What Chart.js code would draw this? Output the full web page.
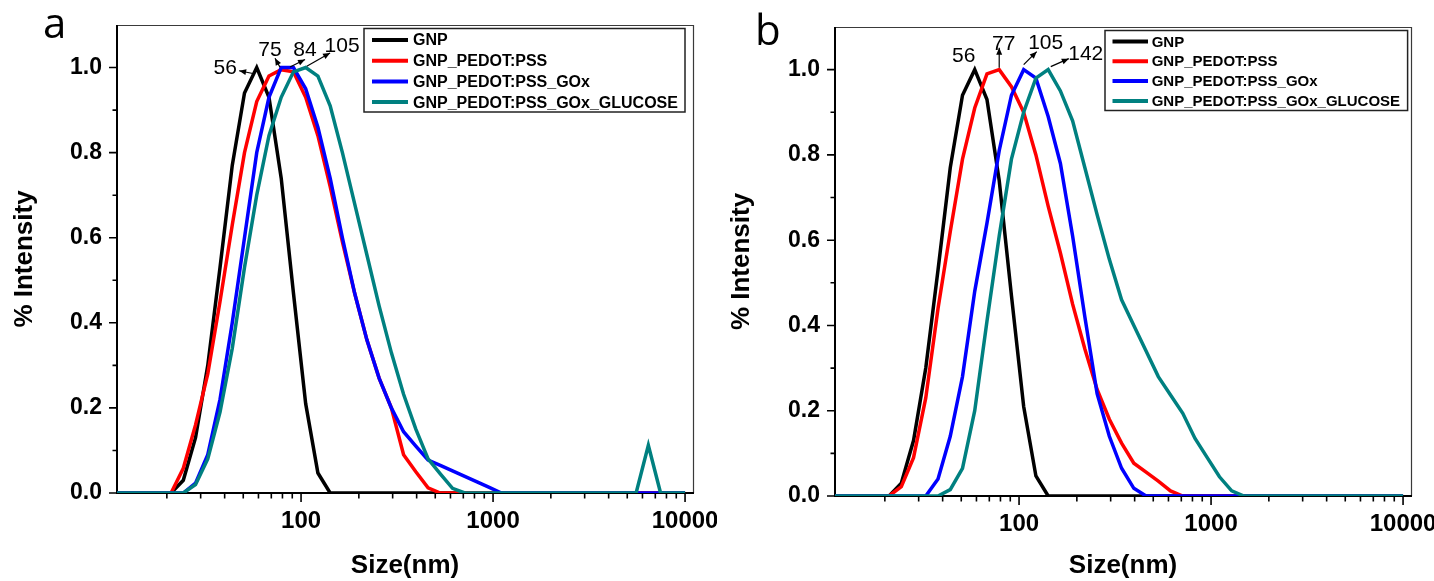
<!DOCTYPE html>
<html><head><meta charset="utf-8">
<script src="https://cdn.jsdelivr.net/npm/chart.js@4.4.1/dist/chart.umd.min.js"></script>
<style>
html,body{margin:0;padding:0;background:#fff;}
#wrap{position:relative;width:1434px;height:581px;overflow:hidden;background:#fff;}
.panel{position:absolute;top:0;width:717px;height:581px;}
#pa{left:0}
#pb{left:717px}
</style></head><body>
<div id="wrap">
<div class="panel" id="pa"><canvas id="ca" width="717" height="581"></canvas></div>
<div class="panel" id="pb"><canvas id="cb" width="717" height="581"></canvas></div>
</div>
<script>
// ---------- DATA ----------
const sizeNm = [10.1, 11.7, 13.54, 15.69, 18.17, 21.04, 24.36, 28.21, 32.67, 37.84,
  43.82, 50.75, 58.77, 68.06, 78.82, 91.28, 105.7, 122.4, 141.8, 164.2,
  190.1, 220.2, 255.0, 295.3, 342.0, 396.1, 458.7, 531.2, 615.1, 712.4,
  825.0, 955.4, 1106, 1281, 1484, 1718, 1990, 2305, 2669, 3091,
  3580, 4145, 4801, 5560, 6439, 7456, 8635, 10000];

const seriesNames = ['GNP', 'GNP_PEDOT:PSS', 'GNP_PEDOT:PSS_GOx', 'GNP_PEDOT:PSS_GOx_GLUCOSE'];

// panel a
const gnpA = [0,0,0,0,0, 0,0.03,0.13,0.30,0.53, 0.77,0.94,1.0,0.93,0.74, 0.47,0.21,0.047,0,0,
  0,0,0,0,0, 0,0,0,0,0, 0,0,0,0,0, 0,0,0,0,0, 0,0,0,0,0, 0,0,0];
const pedotA = [0,0,0,0,0, 0,0.058,0.16,0.28,0.45, 0.63,0.80,0.92,0.98,0.995, 0.99,0.93,0.84,0.72,0.59,
  0.47,0.36,0.27,0.20,0.09, 0.05,0.012,0,0,0, 0,0,0,0,0, 0,0,0,0,0, 0,0,0,0,0, 0,0,0];
const goxA = [0,0,0,0,0, 0,0,0.023,0.09,0.22, 0.40,0.60,0.80,0.93,1.0, 1.0,0.95,0.86,0.74,0.60,
  0.47,0.36,0.27,0.20,0.144, 0.11,0.0775,0.065,0.052,0.039, 0.026,0.013,0,0,0, 0,0,0,0,0, 0,0,0,0,0, 0,0,0];
const glucoseA = [0,0,0,0,0, 0,0,0.02,0.08,0.19, 0.34,0.53,0.70,0.84,0.93, 0.99,1.0,0.98,0.91,0.80,
  0.68,0.56,0.44,0.33,0.232, 0.15,0.08,0.045,0.011,0, 0,0,0,0,0, 0,0,0,0,0, 0,0,0,0,0.112, 0,0,0];

// panel b
const gnpB = gnpA.slice();
const pedotB = [0,0,0,0,0, 0,0.022,0.09,0.23,0.44, 0.62,0.79,0.91,0.99,1.0, 0.96,0.90,0.80,0.68,0.57,
  0.45,0.345,0.25,0.18,0.124, 0.077,0.056,0.035,0.012,0, 0,0,0,0,0, 0,0,0,0,0, 0,0,0,0,0, 0,0,0];
const goxB = [0,0,0,0,0, 0,0,0,0,0.04, 0.14,0.28,0.48,0.64,0.81, 0.94,1.0,0.98,0.89,0.78,
  0.61,0.42,0.24,0.14,0.065, 0.018,0,0,0,0, 0,0,0,0,0, 0,0,0,0,0, 0,0,0,0,0, 0,0,0];
const glucoseB = [0,0,0,0,0, 0,0,0,0,0, 0.015,0.065,0.2,0.41,0.61, 0.79,0.90,0.98,1.0,0.95,
  0.88,0.77,0.66,0.555,0.46, 0.40,0.34,0.28,0.237,0.194, 0.135,0.09,0.045,0.012,0, 0,0,0,0,0, 0,0,0,0,0, 0,0,0];

// peak annotations: [series index, size of annotated point, label]
const peakSeriesA = [0, 1, 2, 3];
const peakSizeA = [58.77, 78.82, 91.28, 105.7];
const peakLabelA = ['56', '75', '84', '105'];
const peakSeriesB = [0, 1, 2, 3];
const peakSizeB = [58.77, 78.82, 105.7, 141.8];
const peakLabelB = ['56', '77', '105', '142'];

// axis ticks
const xMajorTicks = [100, 1000, 10000];
const xMinorTicks = [20,30,40,50,60,70,80,90,200,300,400,500,600,700,800,900,2000,3000,4000,5000,6000,7000,8000,9000];
const yMajorTicks = [0, 0.2, 0.4, 0.6, 0.8, 1.0];
const yMinorTicks = [0.1, 0.3, 0.5, 0.7, 0.9];
const xRange = [11, 11000];
const yRange = [0, 1.1];

// ---------- STYLE ----------
const colors = ['#000000', '#ff0000', '#0000ff', '#008080'];
const FONT = "'Liberation Sans', Arial, Helvetica, sans-serif";
Chart.defaults.font.family = FONT;
Chart.defaults.color = '#000';

function pts(arr) { return sizeNm.map((s, i) => ({x: s, y: arr[i]})); }

const framePlugin = {
  id: 'frame',
  beforeDatasetsDraw(chart, args, o) {
    const {ctx, chartArea: ca, scales} = chart;
    const xs = scales.x, ys = scales.y;
    ctx.save();
    ctx.strokeStyle = '#3a3a3a';
    ctx.lineWidth = 1.2;
    ctx.beginPath();
    ctx.moveTo(ca.left, ca.top + 0.5); ctx.lineTo(ca.right + 0.5, ca.top + 0.5); ctx.lineTo(ca.right + 0.5, ca.bottom);
    ctx.stroke();
    ctx.strokeStyle = '#000';
    ctx.lineWidth = 2;
    ctx.beginPath();
    ctx.moveTo(ca.left, ca.top); ctx.lineTo(ca.left, ca.bottom); ctx.lineTo(ca.right + 1, ca.bottom);
    ctx.stroke();
    ctx.lineWidth = 1.6;
    ctx.beginPath();
    yMajorTicks.forEach(v => { const y = ys.getPixelForValue(v); ctx.moveTo(ca.left, y); ctx.lineTo(ca.left - 8, y); });
    yMinorTicks.forEach(v => { const y = ys.getPixelForValue(v); ctx.moveTo(ca.left, y); ctx.lineTo(ca.left - 4.5, y); });
    xMajorTicks.forEach(v => { const x = xs.getPixelForValue(v); ctx.moveTo(x, ca.bottom); ctx.lineTo(x, ca.bottom + 9); });
    xMinorTicks.forEach(v => { const x = xs.getPixelForValue(v); ctx.moveTo(x, ca.bottom); ctx.lineTo(x, ca.bottom + 5.5); });
    ctx.stroke();
    ctx.restore();
  },
  afterDraw(chart, args, o) {
    const {ctx} = chart;
    ctx.save();
    ctx.fillStyle = '#000';
    ctx.font = "42px 'Open Sans', 'Noto Sans', sans-serif";
    ctx.textBaseline = 'alphabetic';
    ctx.textAlign = 'left';
    ctx.fillText(o.letter, o.letterX, o.letterY);

    const L = o.legend;
    ctx.strokeStyle = '#222';
    ctx.lineWidth = 1.5;
    ctx.strokeRect(L.x1, L.y1, L.x2 - L.x1, L.y2 - L.y1);
    ctx.font = 'bold ' + L.font + 'px ' + FONT;
    ctx.textBaseline = 'middle';
    chart.data.datasets.forEach((ds, i) => {
      const y = L.row0 + i * L.step;
      ctx.strokeStyle = ds.borderColor;
      ctx.lineWidth = 4;
      ctx.beginPath(); ctx.moveTo(L.s1, y); ctx.lineTo(L.s2, y); ctx.stroke();
      ctx.fillStyle = '#000';
      ctx.fillText(ds.label, L.tx, y + 1);
    });

    ctx.font = '21px ' + FONT;
    ctx.textAlign = 'center';
    ctx.textBaseline = 'middle';
    ctx.fillStyle = '#000';
    ctx.strokeStyle = '#000';
    ctx.lineWidth = 1.2;
    o.peaks.forEach(p => {
      const meta = chart.getDatasetMeta(p.series);
      const idx = sizeNm.indexOf(p.size);
      const el = meta.data[idx];
      const px = el.x, py = el.y;
      ctx.fillText(p.label, px + p.t[0], py + p.t[1]);
      if (p.a) {
        const x1 = px + p.a[0], y1 = py + p.a[1], x2 = px + p.a[2], y2 = py + p.a[3];
        ctx.beginPath(); ctx.moveTo(x1, y1); ctx.lineTo(x2, y2); ctx.stroke();
        const ang = Math.atan2(y2 - y1, x2 - x1), h = 7, w = 3;
        ctx.beginPath();
        ctx.moveTo(x2, y2);
        ctx.lineTo(x2 - h * Math.cos(ang) + w * Math.sin(ang), y2 - h * Math.sin(ang) - w * Math.cos(ang));
        ctx.lineTo(x2 - h * Math.cos(ang) - w * Math.sin(ang), y2 - h * Math.sin(ang) + w * Math.cos(ang));
        ctx.closePath(); ctx.fill();
      }
    });
    ctx.restore();
  }
};

function makeChart(canvasId, series, geo, extra) {
  const datasets = series.map((arr, i) => ({
    label: seriesNames[i],
    data: pts(arr),
    borderColor: colors[i],
    backgroundColor: colors[i],
    borderWidth: 3.5,
    pointRadius: 0,
    tension: 0,
    fill: false,
    borderJoinStyle: 'miter',
    order: series.length - i
  }));
  return new Chart(document.getElementById(canvasId), {
    type: 'line',
    data: {datasets},
    plugins: [framePlugin],
    options: {
      responsive: false,
      animation: false,
      devicePixelRatio: 1,
      layout: {padding: {left: 0, top: geo.top, right: 717 - geo.right, bottom: 0}},
      plugins: {legend: {display: false}, tooltip: {enabled: false}, frame: extra},
      scales: {
        x: {
          type: 'logarithmic',
          min: xRange[0], max: xRange[1],
          grid: {display: false, drawTicks: false},
          border: {display: false},
          afterBuildTicks: s => { s.ticks = xMajorTicks.map(v => ({value: v})); },
          afterFit: s => { s.height = 581 - geo.bottom; s.paddingLeft = 0; s.paddingRight = 0; },
          ticks: {
            autoSkip: false, maxRotation: 0, padding: 14,
            font: {size: 24, weight: 'bold'}, color: '#000',
            callback: v => String(v)
          },
          title: {display: true, text: 'Size(nm)', font: {size: 26, weight: 'bold'}, color: '#000', padding: {top: 0, bottom: 0}}
        },
        y: {
          type: 'linear',
          min: yRange[0], max: yRange[1],
          grid: {display: false, drawTicks: false},
          border: {display: false},
          afterBuildTicks: s => { s.ticks = yMajorTicks.map(v => ({value: v})); },
          afterFit: s => { s.width = geo.left; s.paddingTop = 0; s.paddingBottom = 0; },
          ticks: {
            padding: 15,
            font: {size: 23, weight: 'bold'}, color: '#000',
            callback: v => Number(v).toFixed(1)
          },
          title: {display: true, text: '% Intensity', font: {size: 26, weight: 'bold'}, color: '#000', padding: {top: 9, bottom: 0}}
        }
      }
    }
  });
}

makeChart('ca', [gnpA, pedotA, goxA, glucoseA], {left: 117, right: 693, top: 25, bottom: 493}, {
  letter: 'a', letterX: 43, letterY: 38,
  legend: {x1: 364, y1: 28.5, x2: 685, y2: 112, row0: 40, step: 20.7, s1: 372, s2: 408, tx: 413, font: 16},
  peaks: [
    {series: peakSeriesA[0], size: peakSizeA[0], label: peakLabelA[0], t: [-31.6, 0.7], a: [-2.6, 6.2, -17.6, 3.2]},
    {series: peakSeriesA[1], size: peakSizeA[1], label: peakLabelA[1], t: [-11.2, -19.4], a: [-1.2, -2.4, -6.2, -11.4]},
    {series: peakSeriesA[2], size: peakSizeA[2], label: peakLabelA[2], t: [11.6, -17.3], a: [-3.4, -0.6, 11.6, -8]},
    {series: peakSeriesA[3], size: peakSizeA[3], label: peakLabelA[3], t: [36.4, -21.3], a: [1.1, -1.3, 24.4, -14.6]}
  ]
});

makeChart('cb', [gnpB, pedotB, goxB, glucoseB], {left: 118, right: 694, top: 27, bottom: 496}, {
  letter: 'b', letterX: 38, letterY: 45,
  legend: {x1: 388, y1: 30.5, x2: 690.6, y2: 110.5, row0: 41.5, step: 19.8, s1: 395.5, s2: 431, tx: 434.7, font: 15},
  peaks: [
    {series: peakSeriesB[0], size: peakSizeB[0], label: peakLabelB[0], t: [-11, -13], a: null},
    {series: peakSeriesB[1], size: peakSizeB[1], label: peakLabelB[1], t: [4.5, -25], a: [0, -2, 0, -22]},
    {series: peakSeriesB[2], size: peakSizeB[2], label: peakLabelB[2], t: [22, -26], a: [0, -5, 13, -18]},
    {series: peakSeriesB[3], size: peakSizeB[3], label: peakLabelB[3], t: [37.6, -15], a: [2.6, -3, 20.6, -11]}
  ]
});
</script>
</body></html>
